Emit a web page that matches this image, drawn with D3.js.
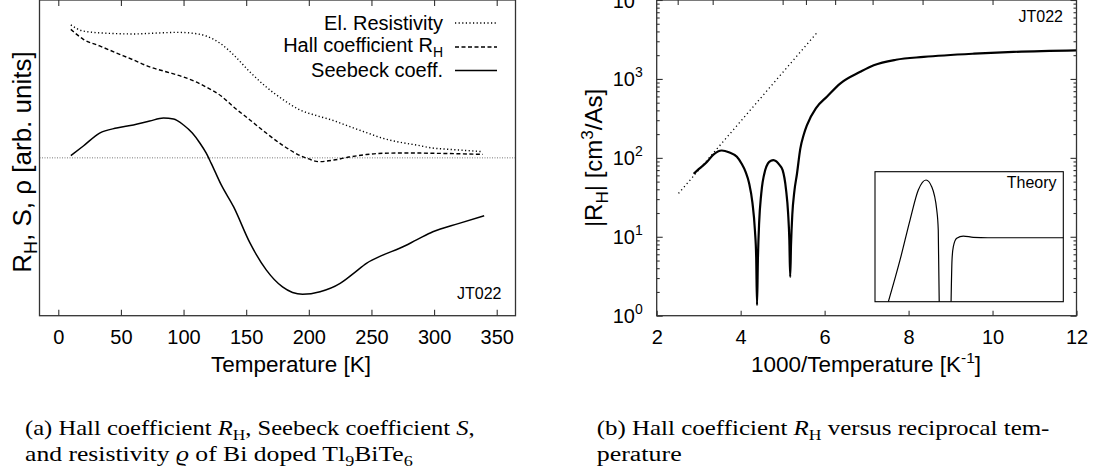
<!DOCTYPE html>
<html><head><meta charset="utf-8">
<script src="https://cdn.jsdelivr.net/npm/d3@7"></script>
<style>
body{margin:0;background:#fff;}
svg{display:block;}
text{font-family:"Liberation Sans",Arial,Helvetica,sans-serif;fill:#000;}
.cap{font-family:"Liberation Serif","Times New Roman",serif;}
</style></head><body>
<svg id="c" width="1094" height="474"></svg>
<script>
// ---------- data (left panel, arbitrary units) ----------
const T_rho = [10,20,40,60,80,95,105,118,130,140,153,166,180,193,206,219,232,246,259,272,286,299,312,325,339];
const rho   = [0.842,0.803,0.789,0.785,0.791,0.795,0.791,0.772,0.721,0.652,0.544,0.449,0.366,0.303,0.268,0.238,0.200,0.160,0.124,0.100,0.081,0.062,0.054,0.047,0.039];
const T_hall = [10,20,33,46.6,60,73,86.7,100,110,118,130,140,153,166,180,193,200,208,220,232,246,259,280,299,320,339];
const hall   = [0.814,0.751,0.709,0.664,0.620,0.576,0.544,0.512,0.481,0.449,0.392,0.322,0.240,0.157,0.075,0.015,-0.007,-0.024,-0.014,0.005,0.021,0.029,0.031,0.029,0.026,0.022];
const T_seeb = [10,20,33,46.6,60,73,84,92,100,107,113,118,122,130,140,153,166,179,187,195,209,225,236,246,259,272.5,286,299,320,340];
const seeb   = [0.014,0.075,0.157,0.189,0.208,0.233,0.252,0.246,0.208,0.157,0.094,0.031,-0.033,-0.17,-0.311,-0.539,-0.710,-0.818,-0.853,-0.864,-0.848,-0.795,-0.730,-0.668,-0.616,-0.573,-0.520,-0.468,-0.415,-0.367];
const xTicksLeft = [0,50,100,150,200,250,300,350];
const legendLabels = ["El. Resistivity","Hall coefficient R","Seebeck coeff."];

// ---------- data (right panel) ----------
const invT_RH = [2.88,3.0,3.19,3.35,3.55,3.72,3.91,4.02,4.12,4.2,4.28,4.34,4.37,4.39,4.41,4.44,4.49,4.585,4.65,4.72,4.78,4.85,4.92,5.0,5.08,5.13,5.16,5.18,5.2,5.23,5.28,5.34,5.42,5.5,5.58,5.8,6.06,6.37,6.85,7.17,7.7,8.36,9.56,10.5,12];
const RH      = [63,72,88,110,124,118,103,85,66,48,27,12,5.5,1.36,5,15,35,70,85,92,93.6,90,82,70,40,20,9,3.1,8,19,38,62,130,195,260,430,600,874,1230,1490,1750,1900,2090,2200,2300];
const invT_fit = [2.52,5.82];
const RH_fit   = [35.4,3866];
const inset1_u = [0.071,0.133,0.186,0.230,0.271,0.301,0.328,0.336,0.341];
const inset1_v = [0,0.321,0.628,0.859,0.936,0.885,0.705,0.552,0];
const inset2_u = [0.404,0.409,0.416,0.434,0.469,0.522,0.6,1.0];
const inset2_v = [0,0.321,0.423,0.488,0.505,0.495,0.492,0.492];
const xTicksRight = [2,4,6,8,10,12];
const yTicksRight = [1,10,100,1000,10000];
const topTicksT = [400,300,200,180,160,140,120,100];

const svg = d3.select("#c");
const frameCol = "#333";

function styleAxis(g){
  g.select(".domain").remove();
  g.selectAll(".tick line").attr("stroke",frameCol).attr("stroke-width",1.1);
  g.selectAll(".tick text").attr("font-size",20).attr("font-family","Liberation Sans, Arial, sans-serif").attr("fill","#000");
}

// ================= LEFT PANEL =================
const L = {x0:39.5, x1:515.5, y0:0, y1:315.7};
const xL = d3.scaleLinear().domain([-15,365]).range([L.x0,L.x1]);
const yL = d3.scaleLinear().domain([-1,1]).range([L.y1,L.y0]);

svg.append("line").attr("x1",L.x0).attr("x2",L.x1).attr("y1",yL(0)).attr("y2",yL(0))
  .attr("stroke","#777").attr("stroke-width",1).attr("stroke-dasharray","1,1.5");

svg.append("g").attr("transform",`translate(0,${L.y1})`)
  .call(d3.axisBottom(xL).tickValues(xTicksLeft).tickSize(-6).tickPadding(14)).call(styleAxis);
svg.append("g").attr("transform",`translate(0,${L.y0})`)
  .call(d3.axisTop(xL).tickValues(xTicksLeft).tickSize(-6).tickFormat("")).call(styleAxis);

const lineL = (xs,ys)=>d3.line().x((d,i)=>xL(xs[i])).y(d=>yL(d)).curve(d3.curveMonotoneX)(ys);
svg.append("path").attr("d",lineL(T_rho,rho)).attr("fill","none").attr("stroke","#000").attr("stroke-width",1.4).attr("stroke-dasharray","1.2,2.4");
svg.append("path").attr("d",lineL(T_hall,hall)).attr("fill","none").attr("stroke","#000").attr("stroke-width",1.4).attr("stroke-dasharray","4,2.5");
svg.append("path").attr("d",lineL(T_seeb,seeb)).attr("fill","none").attr("stroke","#000").attr("stroke-width",1.5);

svg.append("rect").attr("x",L.x0).attr("y",L.y0).attr("width",L.x1-L.x0).attr("height",L.y1-L.y0)
  .attr("fill","none").attr("stroke",frameCol).attr("stroke-width",1.3);

// legend
const legY = [30,52,77], legLineY=[23,47,70.5];
const dashes = ["1.2,2.4","4,2.5",null];
legendLabels.forEach((t,i)=>{
  const tx = svg.append("text").attr("x",443).attr("y",legY[i]).attr("text-anchor","end").attr("font-size",20);
  tx.append("tspan").text(t);
  if(i===1){ tx.append("tspan").attr("font-size",14).attr("dy",5).text("H"); }
  const ln = svg.append("line").attr("x1",455).attr("x2",497).attr("y1",legLineY[i]).attr("y2",legLineY[i])
    .attr("stroke","#000").attr("stroke-width",1.4);
  if(dashes[i]) ln.attr("stroke-dasharray",dashes[i]);
});
svg.append("text").attr("x",501.5).attr("y",299).attr("text-anchor","end").attr("font-size",16).text("JT022");

svg.append("text").attr("x",291).attr("y",372).attr("text-anchor","middle").attr("font-size",22.5).text("Temperature [K]");
{
  const t = svg.append("text").attr("transform",`translate(31,${162}) rotate(-90)`).attr("text-anchor","middle").attr("font-size",26);
  t.append("tspan").text("R");
  t.append("tspan").attr("font-size",18).attr("dy",6).text("H");
  t.append("tspan").attr("dy",-6).text(", S, ρ [arb. units]");
}

// ================= RIGHT PANEL =================
const R = {x0:656.7, x1:1076.5, y0:0, y1:315.7};
const xR = d3.scaleLinear().domain([2,12]).range([R.x0,R.x1]);
const yR = d3.scaleLog().domain([1,1e4]).range([R.y1,R.y0]);
const minor = yR.ticks().filter(v=>yTicksRight.indexOf(v)<0);

svg.append("g").attr("transform",`translate(0,${R.y1})`)
  .call(d3.axisBottom(xR).tickValues(xTicksRight).tickSize(-5).tickPadding(14)).call(styleAxis);
svg.append("g").attr("transform",`translate(0,${R.y0})`)
  .call(d3.axisTop(xR).tickValues(topTicksT.map(t=>1000/t)).tickSize(-5).tickFormat("")).call(styleAxis);
const yAx = svg.append("g").attr("transform",`translate(${R.x0},0)`)
  .call(d3.axisLeft(yR).tickValues(yTicksRight).tickSize(-6).tickPadding(14).tickFormat(()=>"")).call(styleAxis);
yAx.selectAll(".tick text").each(function(d){
  const s = d3.select(this).attr("dy",null).attr("y",7);
  s.append("tspan").text("10");
  s.append("tspan").attr("font-size",14).attr("dy",-9).text(Math.round(Math.log10(d)));
});
svg.append("g").attr("transform",`translate(${R.x0},0)`)
  .call(d3.axisLeft(yR).tickValues(minor).tickSize(-3).tickFormat("")).call(styleAxis);
svg.append("g").attr("transform",`translate(${R.x1},0)`)
  .call(d3.axisRight(yR).tickValues(yTicksRight).tickSize(-6).tickFormat("")).call(styleAxis);
svg.append("g").attr("transform",`translate(${R.x1},0)`)
  .call(d3.axisRight(yR).tickValues(minor).tickSize(-3).tickFormat("")).call(styleAxis);

const lineR = (xs,ys)=>d3.line().x((d,i)=>xR(xs[i])).y(d=>yR(d)).curve(d3.curveMonotoneX)(ys);
svg.append("path").attr("d",d3.line().x((d,i)=>xR(invT_fit[i])).y(d=>yR(d))(RH_fit))
  .attr("fill","none").attr("stroke","#000").attr("stroke-width",1.3).attr("stroke-dasharray","1.2,3");
svg.append("path").attr("d",lineR(invT_RH,RH)).attr("fill","none").attr("stroke","#000").attr("stroke-width",2.2);

svg.append("rect").attr("x",R.x0).attr("y",R.y0).attr("width",R.x1-R.x0).attr("height",R.y1-R.y0)
  .attr("fill","none").attr("stroke",frameCol).attr("stroke-width",1.3);

svg.append("text").attr("x",1063).attr("y",21.5).attr("text-anchor","end").attr("font-size",16).text("JT022");

// inset
const I = {x0:875, x1:1063.3, y0:171.7, y1:301.7};
const xI = d3.scaleLinear().domain([0,1]).range([I.x0,I.x1]);
const yI = d3.scaleLinear().domain([0,1]).range([I.y1,I.y0]);
svg.append("rect").attr("x",I.x0).attr("y",I.y0).attr("width",I.x1-I.x0).attr("height",I.y1-I.y0)
  .attr("fill","#fff").attr("stroke","#000").attr("stroke-width",1.1);
const lineI = (us,vs)=>d3.line().x((d,i)=>xI(us[i])).y(d=>yI(d)).curve(d3.curveMonotoneX)(vs);
svg.append("path").attr("d",lineI(inset1_u,inset1_v)).attr("fill","none").attr("stroke","#000").attr("stroke-width",1.2);
svg.append("path").attr("d",lineI(inset2_u,inset2_v)).attr("fill","none").attr("stroke","#000").attr("stroke-width",1.2);
svg.append("text").attr("x",1056.5).attr("y",188).attr("text-anchor","end").attr("font-size",16).text("Theory");

{
  const t = svg.append("text").attr("x",866).attr("y",372).attr("text-anchor","middle").attr("font-size",22.5);
  t.append("tspan").text("1000/Temperature [K");
  t.append("tspan").attr("font-size",15.5).attr("dy",-9).text("-1");
  t.append("tspan").attr("dy",9).text("]");
}
{
  const t = svg.append("text").attr("transform",`translate(602,158) rotate(-90)`).attr("text-anchor","middle").attr("font-size",24);
  t.append("tspan").text("|R");
  t.append("tspan").attr("font-size",17).attr("dy",6).text("H");
  t.append("tspan").attr("dy",-6).text("| [cm");
  t.append("tspan").attr("font-size",17).attr("dy",-9).text("3");
  t.append("tspan").attr("dy",9).text("/As]");
}

// ================= CAPTIONS =================
function cap(x,y,target,parts){
  const g = svg.append("g");
  const t = g.append("text").attr("class","cap").attr("x",0).attr("y",0).attr("font-size",20.5);
  parts.forEach(p=>{
    const s = t.append("tspan").text(p.t);
    if(p.i) s.attr("font-style","italic");
    if(p.sub) s.attr("font-size",14.5).attr("dy",p.sub);
    if(p.back) s.attr("dy",p.back);
  });
  const w = t.node().getBBox().width;
  g.attr("transform",`translate(${x},${y}) scale(${target/w},1)`);
}
cap(25,435,450,[{t:"(a) Hall coefficient "},{t:"R",i:1},{t:"H",sub:4.5},{t:", Seebeck coefficient ",back:-4.5},{t:"S",i:1},{t:","}]);
cap(25,461,388,[{t:"and resistivity "},{t:"ϱ",i:1},{t:" of Bi doped Tl"},{t:"9",sub:4.5},{t:"BiTe",back:-4.5},{t:"6",sub:4.5}]);
cap(596.7,435,453,[{t:"(b) Hall coefficient "},{t:"R",i:1},{t:"H",sub:4.5},{t:" versus reciprocal tem-",back:-4.5}]);
cap(596.7,461,85,[{t:"perature"}]);
</script>
</body></html>
